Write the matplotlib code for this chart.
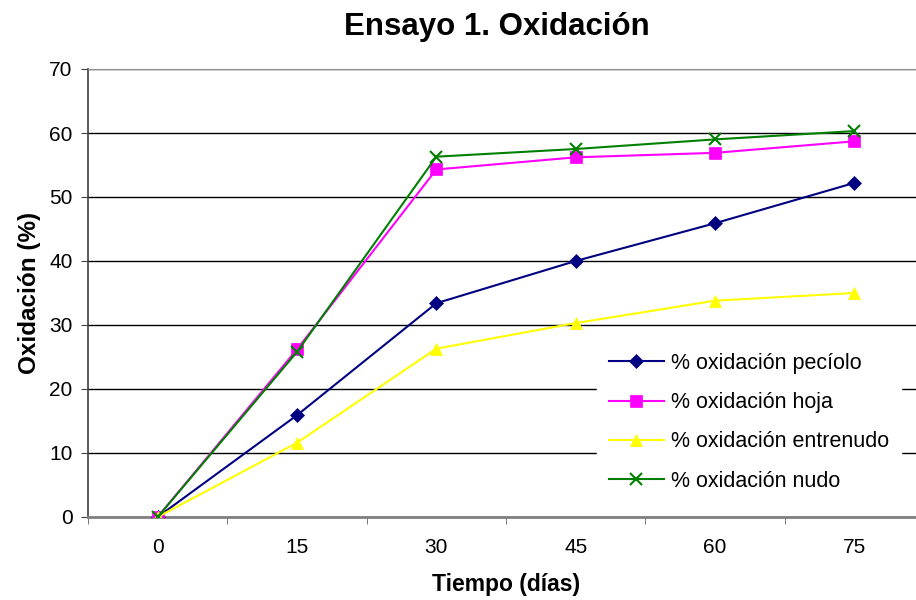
import matplotlib
matplotlib.use("Agg")
import matplotlib.pyplot as plt

plt.rcParams['font.family'] = ['Liberation Sans', 'DejaVu Sans']

# tiempo de ensayo (días) y % de oxidación por tipo de explante
dias = ['0', '15', '30', '45', '60', '75']
peciolo = [0, 15.9, 33.4, 40.0, 45.9, 52.2]
hoja = [0, 26.2, 54.3, 56.2, 56.9, 58.7]
entrenudo = [0, 11.6, 26.3, 30.3, 33.8, 35.0]
nudo = [0, 25.8, 56.3, 57.5, 59.0, 60.3]

series = [
    ('% oxidación pecíolo', peciolo, '#000080', 'D', 7),
    ('% oxidación hoja', hoja, '#FF00FF', 's', 8),
    ('% oxidación entrenudo', entrenudo, '#FFFF00', '^', 9),
    ('% oxidación nudo', nudo, '#008000', 'x', 9),
]

fig = plt.figure(figsize=(9.16, 6.0), dpi=100)
ax = fig.add_axes([88/916, 83/600, 836/916, 448/600])

x = range(len(dias))
for nombre, vals, col, mk, ms in series:
    ax.plot(x, vals, color=col, marker=mk, markersize=ms, linewidth=1.5,
            markeredgewidth=1.5 if mk == 'x' else 0.5, label=nombre, zorder=3)

ax.set_xlim(-0.5, 5.5)
ax.set_ylim(0, 70)
ax.set_yticks(range(0, 71, 10))
ax.yaxis.grid(True, color='black', linewidth=1)
ax.set_axisbelow(True)

ax.set_xticks(x)
ax.set_xticklabels(dias)
ax.set_xticks([i - 0.5 for i in range(7)], minor=True)
ax.tick_params(axis='x', which='major', length=0, pad=15, labelsize=15)
ax.tick_params(axis='x', which='minor', length=5, color='#606060')
ax.tick_params(axis='y', length=5, labelsize=15, color='#404040', pad=6)

ax.spines['right'].set_visible(False)
ax.spines['top'].set_color('#909090')
ax.spines['bottom'].set_color('#808080')
ax.spines['bottom'].set_linewidth(2)
ax.spines['left'].set_color('#404040')
ax.spines['left'].set_linewidth(1.2)

ax.set_xlabel('Tiempo (días)', fontsize=16.5, fontweight='bold', labelpad=12)
ax.set_ylabel('Oxidación (%)', fontsize=17.5, fontweight='bold', labelpad=6)
fig.text(497/916, 1 - 27/600, 'Ensayo 1. Oxidación', ha='center', va='center',
         fontsize=22.5, fontweight='bold')

leg = ax.legend(loc='upper left', bbox_to_anchor=((597 - 88)/836, (517 - 341)/448),
                borderaxespad=0, frameon=True, fontsize=15.5, handlelength=2.55,
                labelspacing=0.85, borderpad=0.55, handletextpad=0.35)
leg.get_frame().set_edgecolor('white')
leg.get_frame().set_facecolor('white')
leg.get_frame().set_alpha(1)
leg.get_frame().set_boxstyle('square', pad=0)

fig.savefig('out.png', dpi=100)
